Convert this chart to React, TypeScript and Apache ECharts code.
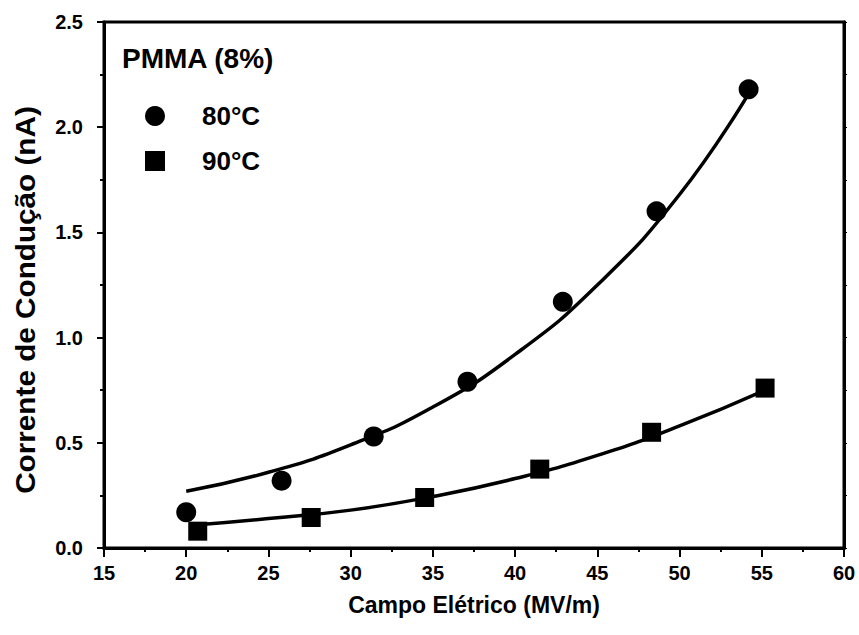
import React, { useEffect, useRef } from "react";
import * as echarts from "echarts";

// Measured points
const field80 = [20.0, 25.8, 31.4, 37.1, 42.9, 48.6, 54.2];
const current80 = [0.17, 0.32, 0.53, 0.79, 1.17, 1.6, 2.18];
const field90 = [20.7, 27.6, 34.5, 41.5, 48.3, 55.2];
const current90 = [0.08, 0.145, 0.24, 0.375, 0.55, 0.76];

// Fitted curves
const fitField80 = [20, 25, 30, 35, 40, 45, 50, 54.2];
const fitCurrent80 = [0.27, 0.36, 0.49, 0.67, 0.92, 1.25, 1.68, 2.16];
const fitField90 = [20.7, 25, 30, 35, 40, 45, 50, 55.2];
const fitCurrent90 = [0.11, 0.14, 0.18, 0.245, 0.33, 0.44, 0.58, 0.75];

const seriesNames = ["80°C", "90°C"];
const titleText = "PMMA (8%)";
const xName = "Campo Elétrico (MV/m)";
const yName = "Corrente de Condução (nA)";

const zip = (a: number[], b: number[]) => a.map((v, i) => [v, b[i]]);

const FONT = "Liberation Sans, Arial, sans-serif";

const GRID = { left: 104, right: 15, top: 22, bottom: 87 };
const W = 859;
const H = 635;

export default function App() {
  const ref = useRef<HTMLDivElement>(null);
  useEffect(() => {
    if (!ref.current) return;
    const chart = echarts.init(ref.current, undefined, { renderer: "svg" });
    const mkLine = () => ({ show: true, onZero: false, lineStyle: { color: "#000000", width: 3, opacity: 1 } });
    const labelStyle = { fontFamily: FONT, fontSize: 20, fontWeight: "bold", color: "#000" };
    chart.setOption({
      animation: false,
      backgroundColor: "#fff",
      textStyle: { fontFamily: FONT, color: "#000" },
      title: {
        text: titleText,
        left: 122,
        top: 44,
        padding: 0,
        textStyle: { fontFamily: FONT, fontSize: 28, fontWeight: "bold", color: "#000" },
      },
      legend: {
        data: [
          { name: seriesNames[0], icon: "circle" },
          { name: seriesNames[1], icon: "rect" },
        ],
        orient: "vertical",
        left: 145,
        top: 103,
        padding: 0,
        itemWidth: 20,
        itemHeight: 20,
        itemGap: 19,
        textStyle: {
          fontFamily: FONT,
          fontSize: 26,
          lineHeight: 24,
          fontWeight: "bold",
          color: "#000",
          padding: [0, 0, 0, 32],
        },
      },
      graphic: [
        {
          type: "text",
          x: 25,
          y: 300,
          rotation: Math.PI / 2,
          scaleX: 1.1,
          style: {
            text: yName,
            fontFamily: FONT,
            fontSize: 27,
            fontWeight: "bold",
            fill: "#000",
            align: "center",
            verticalAlign: "middle",
          },
        },
        {
          type: "rect",
          z: 10,
          silent: true,
          shape: {
            x: GRID.left,
            y: GRID.top,
            width: W - GRID.left - GRID.right,
            height: H - GRID.top - GRID.bottom,
          },
          style: { fill: "none", stroke: "#000", lineWidth: 3 },
        },
      ],
      grid: { ...GRID, containLabel: false },
      xAxis: [
        {
          type: "value",
          min: 15,
          max: 60,
          interval: 5,
          name: xName,
          nameLocation: "middle",
          nameGap: 45,
          nameTextStyle: { fontFamily: FONT, fontSize: 23, fontWeight: "bold", color: "#000" },
          axisLine: mkLine(),
          axisTick: { show: true, inside: false, length: 9, lineStyle: { color: "#000000", width: 2 } },
          minorTick: { show: true, splitNumber: 2, length: 4, lineStyle: { color: "#000000", width: 2 } },
          axisLabel: { margin: 15, ...labelStyle },
          splitLine: { show: false },
        },
      ],
      yAxis: [
        {
          type: "value",
          min: 0,
          max: 2.5,
          interval: 0.5,
          axisLine: mkLine(),
          axisTick: { show: true, inside: false, length: 7, lineStyle: { color: "#000000", width: 2 } },
          minorTick: { show: true, splitNumber: 2, length: 4, lineStyle: { color: "#000000", width: 2 } },
          axisLabel: {
            margin: 21,
            ...labelStyle,
            formatter: (v: number) => v.toFixed(1),
          },
          splitLine: { show: false },
        },
        {
          type: "value",
          position: "right",
          min: 0,
          max: 2.5,
          interval: 0.5,
          axisLine: mkLine(),
          axisTick: { show: true, length: 3, lineStyle: { color: "#000000", width: 1 } },
          minorTick: { show: true, splitNumber: 2, length: 3, lineStyle: { color: "#000000", width: 1 } },
          axisLabel: { show: false },
          splitLine: { show: false },
        },
      ],
      series: [
        {
          name: "fit80",
          type: "line",
          data: zip(fitField80, fitCurrent80),
          smooth: true,
          showSymbol: false,
          lineStyle: { color: "#000", width: 3.5 },
          z: 2,
        },
        {
          name: "fit90",
          type: "line",
          data: zip(fitField90, fitCurrent90),
          smooth: true,
          showSymbol: false,
          lineStyle: { color: "#000", width: 3.5 },
          z: 2,
        },
        {
          name: seriesNames[0],
          type: "scatter",
          data: zip(field80, current80),
          symbol: "circle",
          symbolSize: 20,
          itemStyle: { color: "#000", opacity: 1 },
          z: 3,
        },
        {
          name: seriesNames[1],
          type: "scatter",
          data: zip(field90, current90),
          symbol: "rect",
          symbolSize: 19,
          itemStyle: { color: "#000", opacity: 1 },
          z: 3,
        },
      ],
    });
    return () => chart.dispose();
  }, []);
  return (
    <div
      ref={ref}
      style={{ position: "absolute", left: 0, top: 0, width: W, height: H, background: "#fff" }}
    />
  );
}
